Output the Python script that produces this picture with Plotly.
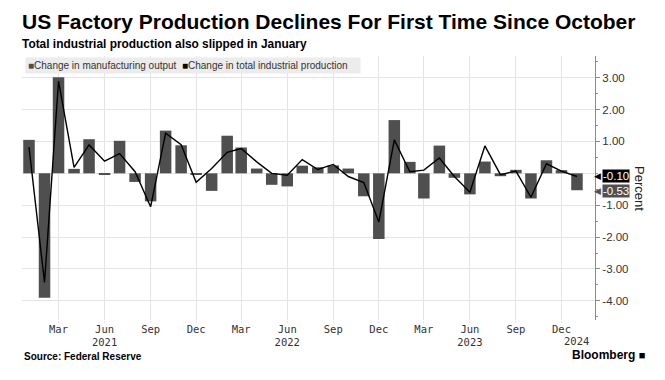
import plotly.graph_objects as go

months = [
    "2021-01-01", "2021-02-01", "2021-03-01", "2021-04-01", "2021-05-01", "2021-06-01",
    "2021-07-01", "2021-08-01", "2021-09-01", "2021-10-01", "2021-11-01", "2021-12-01",
    "2022-01-01", "2022-02-01", "2022-03-01", "2022-04-01", "2022-05-01", "2022-06-01",
    "2022-07-01", "2022-08-01", "2022-09-01", "2022-10-01", "2022-11-01", "2022-12-01",
    "2023-01-01", "2023-02-01", "2023-03-01", "2023-04-01", "2023-05-01", "2023-06-01",
    "2023-07-01", "2023-08-01", "2023-09-01", "2023-10-01", "2023-11-01", "2023-12-01",
    "2024-01-01",
]

manufacturing = [
    1.05, -3.90, 3.01, 0.14, 1.07, -0.04, 1.02, -0.27, -0.88, 1.34, 0.88, -0.03,
    -0.55, 1.18, 0.81, 0.15, -0.36, -0.41, 0.24, 0.19, 0.25, 0.15, -0.72, -2.06,
    1.67, 0.36, -0.79, 0.87, -0.14, -0.66, 0.37, -0.09, 0.11, -0.79, 0.41, 0.10,
    -0.53,
]

industrial = [
    0.82, -3.42, 2.89, 0.19, 0.89, 0.38, 0.62, 0.05, -1.05, 1.26, 0.90, -0.28,
    0.15, 0.66, 0.78, 0.36, 0.00, -0.06, 0.43, 0.12, 0.28, -0.10, -0.29, -1.53,
    1.05, 0.05, 0.10, 0.48, -0.10, -0.59, 0.86, -0.04, 0.07, -0.75, 0.30, 0.07,
    -0.10,
]

tick_vals = [
    "2021-03-01", "2021-06-01", "2021-09-01", "2021-12-01",
    "2022-03-01", "2022-06-01", "2022-09-01", "2022-12-01",
    "2023-03-01", "2023-06-01", "2023-09-01", "2023-12-01",
]
tick_text = [
    "Mar", "Jun<br>2021", "Sep", "Dec",
    "Mar", "Jun<br>2022", "Sep", "Dec",
    "Mar", "Jun<br>2023", "Sep", "Dec",
]
extra_year_label = ("2024-01-01", "2024")

# y labels (0.00 is hidden behind the end-value tags in the original)
y_tick_vals = [-4, -3, -2, -1, 1, 2, 3]
y_tick_text = ["-4.00", "-3.00", "-2.00", "-1.00", "1.00", "2.00", "3.00"]

BAR_COLOR = "#4f4f4f"
LINE_COLOR = "#000000"
GRID = "#e4e4e4"
SANS = "Liberation Sans, Arial, sans-serif"
MONO = "DejaVu Sans Mono, Liberation Mono, monospace"

fig = go.Figure()
fig.add_trace(go.Bar(
    x=months, y=manufacturing, name="Change in manufacturing output",
    marker=dict(color=BAR_COLOR, line=dict(width=0)),
    width=23 * 86400000, showlegend=False, hoverinfo="skip",
))
fig.add_trace(go.Scatter(
    x=months, y=industrial, mode="lines", name="Change in total industrial production",
    line=dict(color=LINE_COLOR, width=1.4), showlegend=False, hoverinfo="skip",
))

fig.update_layout(
    width=665, height=380,
    margin=dict(l=22, r=70, t=56, b=60),
    paper_bgcolor="white", plot_bgcolor="white",
    barmode="overlay",
    showlegend=False,
    font=dict(family=SANS, size=11, color="#333"),
    xaxis=dict(
        type="date",
        range=["2020-12-18", "2024-02-06"],
        tickmode="array", tickvals=tick_vals, ticktext=tick_text,
        showgrid=True, gridcolor=GRID, gridwidth=1,
        ticks="outside", ticklen=2, tickcolor=GRID,
        ticklabelstandoff=-3,
        showline=False, zeroline=False,
        tickfont=dict(family=MONO, size=10.5, color="#333"),
    ),
    yaxis=dict(
        side="right",
        range=[-4.6, 3.68],
        tickmode="array", tickvals=y_tick_vals, ticktext=y_tick_text,
        showgrid=True, gridcolor=GRID, gridwidth=1,
        zeroline=True, zerolinecolor=GRID, zerolinewidth=1,
        showline=True, linecolor="#8a8a8a", linewidth=1,
        ticks="outside", ticklen=4, tickcolor="#8a8a8a",
        minor=dict(tick0=0, dtick=0.5, ticks="outside", ticklen=2, tickcolor="#8a8a8a", showgrid=False),
        tickfont=dict(family=SANS, size=11.5, color="#333"),
    ),
)

annotations = [
    dict(text="<b>US Factory Production Declines For First Time Since October</b>",
         xref="paper", yref="paper", x=-0.004, y=1.0, yshift=21,
         xanchor="left", yanchor="bottom", showarrow=False,
         font=dict(family=SANS, size=21, color="#000")),
    dict(text="<b>Total industrial production also slipped in January</b>",
         xref="paper", yref="paper", x=-0.004, y=1.0, yshift=3,
         xanchor="left", yanchor="bottom", showarrow=False,
         font=dict(family=SANS, size=11.9, color="#000")),
    dict(text=("<span style='color:%s'>■</span>Change in manufacturing output  "
               "<span style='color:%s'>■</span>Change in total industrial production") % (BAR_COLOR, LINE_COLOR),
         xref="paper", yref="paper", x=0.005, y=1.0, yshift=-1,
         xanchor="left", yanchor="top", showarrow=False, align="left",
         bgcolor="#ececec", borderpad=2, width=330,
         font=dict(family=SANS, size=10, color="#333")),
    dict(text="Percent", textangle=90,
         xref="paper", yref="paper", x=1.0, xshift=45, y=0.5,
         xanchor="center", yanchor="middle", showarrow=False,
         font=dict(family=SANS, size=13, color="#222")),
    dict(text=extra_year_label[1], x=extra_year_label[0], xref="x",
         yref="paper", y=0, yshift=-13, xanchor="center", yanchor="top",
         showarrow=False, font=dict(family=MONO, size=10.5, color="#333")),
    dict(text="<b>Source: Federal Reserve</b>",
         xref="paper", yref="paper", x=0.0, y=0, yshift=-29,
         xanchor="left", yanchor="top", showarrow=False,
         font=dict(family=SANS, size=10, color="#000")),
    dict(text="<b>Bloomberg</b> <span style='font-size:11px'>■</span>",
         xref="paper", yref="paper", x=1.0, xshift=52, y=0, yshift=-26,
         xanchor="right", yanchor="top", showarrow=False,
         font=dict(family=SANS, size=12, color="#000")),
]

# end-value tags
for val, color, nudge in [(industrial[-1], "#000000", 1), (manufacturing[-1], "#505050", -1)]:
    annotations.append(dict(
        text="%.2f" % val, xref="paper", yref="y", x=1.0, xshift=7, y=val, yshift=nudge,
        xanchor="left", yanchor="middle", showarrow=False,
        bgcolor=color, borderpad=0,
        font=dict(family=SANS, size=11.5, color="white")))
    annotations.append(dict(
        text="◀", xref="paper", yref="y", x=1.0, xshift=8, y=val, yshift=nudge,
        xanchor="right", yanchor="middle", showarrow=False,
        font=dict(size=9, color=color)))

fig.update_layout(annotations=annotations)
fig.write_html("out.html", config={"displayModeBar": False},
               post_script="document.body.style.margin='0';")
